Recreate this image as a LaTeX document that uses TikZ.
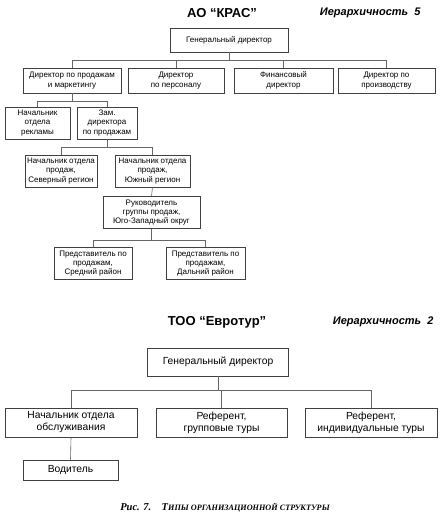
\documentclass[tikz,border=0pt]{standalone}
\usepackage{fontspec}
\setmainfont{Liberation Sans}
\newfontfamily\capfont{Liberation Serif}
\usetikzlibrary{positioning}

\tikzset{
  post/.style={draw=black!75, line width=0.6pt, align=center, inner sep=1pt,
    font=\fontsize{8}{9.3}\selectfont},
  bigpost/.style={post, font=\fontsize{10.3}{12}\selectfont},
  link/.style={draw=black!60, line width=0.6pt},
  firm/.style={font=\bfseries\fontsize{13}{15}\selectfont},
  rank/.style={font=\bfseries\itshape\fontsize{11}{13}\selectfont, anchor=east},
}

\begin{document}
\begin{tikzpicture}[x=1pt,y=-1pt]
    \useasboundingbox (0,0) rectangle (442,532);

    % AO KRAS
    \node[firm] (krasName) at (222,13) {АО “КРАС”};
    \node[rank] (krasRank) at (424,13) {Иерархичность\ \ 5};

    \node[post, minimum width=118pt, minimum height=24pt] (gen) at (229,40) {Генеральный директор};
    \node[post, minimum width=98pt, minimum height=25pt] (sales) at (72,80.5) {Директор по продажам\\и маркетингу};
    \node[post, minimum width=96pt, minimum height=25pt] (staff) at (176,80.5) {Директор\\по персоналу};
    \node[post, minimum width=99pt, minimum height=25pt] (fin) at (283.5,80.5) {Финансовый\\директор};
    \node[post, minimum width=97pt, minimum height=25pt] (prod) at (386.5,80.5) {Директор по\\производству};

    \node[post, minimum width=65pt, minimum height=32pt] (adv) at (37.5,123) {Начальник\\отдела\\рекламы};
    \node[post, minimum width=60pt, minimum height=32pt] (vice) at (107,123) {Зам.\\директора\\по продажам};

    \node[post, minimum width=72pt, minimum height=32pt] (north) at (61,171) {Начальник отдела\\продаж,\\Северный регион};
    \node[post, minimum width=75pt, minimum height=32pt] (south) at (152.5,171) {Начальник отдела\\продаж,\\Южный регион};

    \node[post, minimum width=97pt, minimum height=32pt] (group) at (151.5,212.5) {Руководитель\\группы продаж,\\Юго-Западный округ};

    \node[post, minimum width=78pt, minimum height=32pt] (mid) at (93,263.5) {Представитель по\\продажам,\\Средний район};
    \node[post, minimum width=79pt, minimum height=32pt] (far) at (205.5,263.5) {Представитель по\\продажам,\\Дальний район};

    \coordinate (genBus) at (gen.south |- 0,60);
    \coordinate (salesBus) at (sales.south |- 0,101);
    \coordinate (viceBus) at (vice.south |- 0,147);
    \coordinate (groupBus) at (group.south |- 0,240);

    \draw[link] (gen.south) -- (genBus);
    \foreach \n in {sales,staff,fin,prod}
        \draw[link] (genBus) -| (\n.north);
    \draw[link] (sales.south) -- (salesBus);
    \foreach \n in {adv,vice}
        \draw[link] (salesBus) -| (\n.north);
    \draw[link] (vice.south) -- (viceBus);
    \foreach \n in {north,south}
        \draw[link] (viceBus) -| (\n.north);
    \draw[link] (south.south) -- (group.north);
    \draw[link] (group.south) -- (groupBus);
    \foreach \n in {mid,far}
        \draw[link] (groupBus) -| (\n.north);

    % TOO Evrotur
    \node[firm] (evroName) at (217,322) {ТОО “Евротур”};
    \node[rank] (evroRank) at (437,322) {Иерархичность\ \ 2};

    \node[bigpost, minimum width=141pt, minimum height=28pt] (eGen) at (218,362) {Генеральный директор};
    \node[bigpost, minimum width=132pt, minimum height=29pt] (service) at (71,422.5) {Начальник отдела\\обслуживания};
    \node[bigpost, minimum width=131pt, minimum height=29pt] (groupTour) at (221.5,422.5) {Референт,\\групповые туры};
    \node[bigpost, minimum width=132pt, minimum height=29pt] (soloTour) at (371,422.5) {Референт,\\индивидуальные туры};
    \node[bigpost, minimum width=95pt, minimum height=20pt] (driver) at (70.5,470) {Водитель};

    \coordinate (eGenBus) at (eGen.south |- 0,390);
    \draw[link] (eGen.south) -- (eGenBus);
    \foreach \n in {service,groupTour,soloTour}
        \draw[link] (eGenBus) -| (\n.north);
    \draw[link] (service.south) -- (driver.north);

    % caption
    \node[font=\capfont\bfseries\itshape\fontsize{10.5}{12}\selectfont] (caption) at (225,508)
        {Рис. 7.\quad Т{\fontsize{8.2}{9}\selectfont ИПЫ ОРГАНИЗАЦИОННОЙ СТРУКТУРЫ}};
\end{tikzpicture}
\end{document}
